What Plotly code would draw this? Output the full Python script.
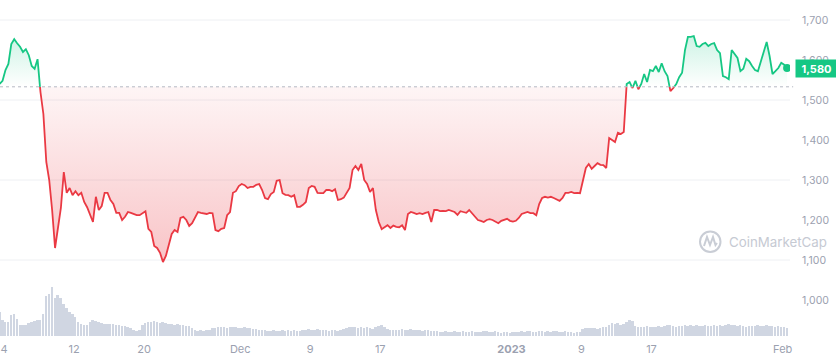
import numpy as np
import pandas as pd
import plotly.graph_objects as go

# ---------------- data ----------------
START = "2022-11-03 12:00"
STEP = "8h"

PRICE = [
    1540, 1548, 1575, 1590, 1640, 1652, 1642, 1633, 1620, 1627,
    1612, 1585, 1578, 1602, 1520, 1465, 1345, 1300, 1225, 1130,
    1178, 1230, 1320, 1268, 1280, 1262, 1272, 1262, 1268, 1245,
    1232, 1215, 1195, 1258, 1225, 1235, 1268, 1268, 1250, 1240,
    1218, 1218, 1200, 1208, 1220, 1218, 1215, 1212, 1212, 1218,
    1222, 1178, 1170, 1135, 1130, 1118, 1095, 1110, 1135, 1165,
    1175, 1170, 1205, 1208, 1200, 1185, 1192, 1205, 1220, 1218,
    1217, 1215, 1218, 1217, 1175, 1172, 1178, 1180, 1212, 1220,
    1268, 1272, 1285, 1290, 1287, 1280, 1283, 1283, 1288, 1290,
    1275, 1255, 1252, 1265, 1270, 1298, 1300, 1267, 1263, 1262,
    1258, 1262, 1233, 1233, 1238, 1245, 1280, 1285, 1283, 1268,
    1267, 1267, 1275, 1275, 1272, 1277, 1250, 1252, 1256, 1270,
    1280, 1325, 1335, 1325, 1340, 1300, 1290, 1270, 1280, 1225,
    1195, 1177, 1183, 1187, 1180, 1186, 1183, 1182, 1187, 1175,
    1215, 1220, 1218, 1215, 1217, 1215, 1218, 1220, 1195, 1225,
    1225, 1222, 1223, 1222, 1225, 1223, 1220, 1213, 1222, 1220,
    1218, 1225, 1217, 1208, 1200, 1198, 1195, 1200, 1202, 1200,
    1195, 1192, 1198, 1200, 1203, 1198, 1196, 1198, 1205, 1215,
    1218, 1220, 1217, 1217, 1212, 1240, 1255, 1258, 1256, 1258,
    1255, 1252, 1248, 1255, 1268, 1268, 1270, 1267, 1268, 1267,
    1295, 1330, 1340, 1328, 1335, 1342, 1338, 1337, 1330, 1405,
    1400, 1395, 1418, 1415, 1420, 1540, 1545, 1530, 1548, 1527,
    1540, 1565, 1545, 1575, 1572, 1585, 1570, 1592, 1572, 1560,
    1522, 1530, 1540, 1557, 1568, 1625, 1658, 1658, 1660, 1635,
    1633, 1640, 1643, 1635, 1640, 1642, 1625, 1617, 1560, 1557,
    1552, 1625, 1615, 1605, 1572, 1578, 1603, 1597, 1585, 1575,
    1572, 1595, 1617, 1645, 1610, 1565, 1572, 1580, 1593, 1588,
    1580,
]

# trading volume (units of $0.5bn)
VOLUME = [
    24, 16, 14, 14, 21, 22, 17, 11, 11, 11,
    13, 14, 15, 16, 16, 22, 40, 42, 49, 38,
    41, 38, 32, 28, 24, 22, 19, 14, 12, 11,
    11, 14, 16, 15, 14, 13, 12, 12, 12, 12,
    11, 11, 10, 10, 9, 8, 6, 5, 6, 11,
    13, 14, 14, 15, 14, 13, 14, 13, 12, 12,
    11, 12, 11, 11, 10, 10, 8, 6, 5, 6,
    5, 6, 6, 8, 8, 9, 9, 9, 8, 9,
    9, 9, 8, 8, 9, 8, 8, 7, 7, 6,
    6, 6, 5, 5, 6, 5, 5, 6, 5, 6,
    5, 6, 5, 5, 6, 6, 7, 6, 6, 7,
    6, 6, 6, 5, 6, 6, 5, 6, 7, 8,
    9, 9, 9, 8, 9, 8, 9, 8, 7, 9,
    10, 11, 9, 7, 6, 6, 6, 6, 7, 6,
    6, 7, 6, 6, 6, 5, 6, 6, 5, 5,
    5, 4, 4, 5, 4, 4, 5, 4, 4, 5,
    4, 4, 5, 4, 4, 4, 5, 5, 4, 4,
    5, 4, 3, 4, 4, 3, 4, 4, 4, 5,
    4, 5, 5, 4, 4, 5, 5, 4, 5, 4,
    5, 5, 4, 4, 5, 4, 4, 3, 4, 4,
    7, 8, 8, 8, 8, 7, 8, 9, 9, 11,
    13, 12, 13, 11, 12, 14, 16, 15, 10, 9,
    9, 9, 10, 9, 9, 9, 10, 9, 10, 11,
    11, 10, 9, 10, 10, 11, 10, 11, 10, 11,
    10, 10, 11, 10, 10, 11, 10, 11, 10, 11,
    12, 11, 11, 10, 11, 10, 9, 10, 10, 10,
    11, 10, 10, 11, 10, 10, 9, 10, 9, 9,
    8,
]

BASELINE = 1533
LAST_PRICE = 1580
Y_TICKS = [1000, 1100, 1200, 1300, 1400, 1500, 1600, 1700]
GRID_LEVELS = [1100, 1300, 1500, 1700]
X_TICKS = ["2022-11-04", "2022-11-12", "2022-11-20", "2022-12-01", "2022-12-09",
           "2022-12-17", "2023-01-01", "2023-01-09", "2023-01-17", "2023-02-01"]
X_LABELS = ["4", "12", "20", "Dec", "9", "17", "<b>2023</b>", "9", "17", "Feb"]

# ---------------- styling ----------------
GREEN = "#16c784"
RED = "#ea3943"
VOL_COLOR = "#d0d6e2"
LABEL_COLOR = "#9ba1b0"
FONT = "Inter, sans-serif"

t = pd.date_range(START, periods=len(PRICE), freq=STEP)
tms = t.values.astype("datetime64[ms]").astype(np.int64).astype(float)
p = np.array(PRICE, dtype=float)

# insert baseline crossing points so colours switch exactly at the baseline
xs, ys = [tms[0]], [p[0]]
for i in range(1, len(p)):
    a, b = p[i - 1] - BASELINE, p[i] - BASELINE
    if a * b < 0:
        f = a / (a - b)
        xs.append(tms[i - 1] + f * (tms[i] - tms[i - 1]))
        ys.append(BASELINE)
    xs.append(tms[i])
    ys.append(p[i])
xs = pd.to_datetime(np.array(xs), unit="ms")
ys = np.array(ys)

up = np.maximum(ys, BASELINE)
dn = np.minimum(ys, BASELINE)
green_line = np.where(ys >= BASELINE, ys, np.nan)
red_line = np.where(ys <= BASELINE, ys, np.nan)
base_arr = np.full(len(ys), BASELINE, dtype=float)

fig = go.Figure()

fig.add_trace(go.Bar(
    x=t, y=VOLUME, yaxis="y2", marker=dict(color=VOL_COLOR, line=dict(width=0)),
    width=8 * 3600 * 1000 * 0.68, hoverinfo="skip"))

fig.add_trace(go.Scatter(x=xs, y=base_arr, mode="lines", line=dict(width=0),
                         hoverinfo="skip"))
fig.add_trace(go.Scatter(
    x=xs, y=up, mode="lines", line=dict(width=0), fill="tonexty",
    fillgradient=dict(type="vertical", start=BASELINE, stop=1665,
                      colorscale=[[0, "rgba(22,199,132,0.0)"], [1, "rgba(22,199,132,0.22)"]]),
    hoverinfo="skip"))

fig.add_trace(go.Scatter(x=xs, y=base_arr, mode="lines", line=dict(width=0),
                         hoverinfo="skip"))
fig.add_trace(go.Scatter(
    x=xs, y=dn, mode="lines", line=dict(width=0), fill="tonexty",
    fillgradient=dict(type="vertical", start=1090, stop=BASELINE,
                      colorscale=[[0, "rgba(234,57,67,0.30)"], [1, "rgba(234,57,67,0.05)"]]),
    hoverinfo="skip"))

fig.add_trace(go.Scatter(x=xs, y=red_line, mode="lines",
                         line=dict(color=RED, width=1.8), connectgaps=False))
fig.add_trace(go.Scatter(x=xs, y=green_line, mode="lines",
                         line=dict(color=GREEN, width=1.8), connectgaps=False))
fig.add_trace(go.Scatter(x=[t[-1]], y=[PRICE[-1]], mode="markers",
                         marker=dict(color=GREEN, size=8)))

shapes = []
for g in GRID_LEVELS:
    shapes.append(dict(type="line", xref="paper", x0=0, x1=1, yref="y", y0=g, y1=g,
                       line=dict(color="#eef0f3", width=1), layer="below"))
shapes.append(dict(type="line", xref="paper", x0=0, x1=1.004, yref="y", y0=BASELINE, y1=BASELINE,
                   line=dict(color="#b5bac4", width=1, dash="dot"), layer="above"))

# watermark logo (circle + wave)
W, H = 790.0, 336.0
def px(x): return x / W
def py(y): return 1 - y / H
shapes.append(dict(type="circle", xref="paper", yref="paper",
                   x0=px(700), x1=px(720.5), y0=py(252), y1=py(231.5),
                   line=dict(color="#c9cdd5", width=2)))
shapes.append(dict(type="path", xref="paper", yref="paper",
                   path=f"M {px(704)} {py(246)} L {px(707)} {py(237)} L {px(710)} {py(245)} "
                        f"L {px(713)} {py(237)} L {px(715.5)} {py(245)} L {px(717)} {py(243)}",
                   line=dict(color="#c9cdd5", width=2)))

annotations = [
    dict(xref="paper", x=1, xanchor="left", xshift=5, yref="y", y=LAST_PRICE,
         text=f"<b>{LAST_PRICE:,}</b>", showarrow=False, bgcolor=GREEN,
         font=dict(color="white", size=11, family=FONT), width=37, height=13, borderpad=2),
    dict(xref="paper", x=px(727), xanchor="left", yref="paper", y=py(242), yanchor="middle",
         text="CoinMarketCap", showarrow=False,
         font=dict(color="#c6cad3", size=13.3, family=FONT)),
]

fig.update_layout(
    width=836, height=359, margin=dict(l=0, r=46, t=0, b=23),
    paper_bgcolor="white", plot_bgcolor="white", showlegend=False,
    shapes=shapes, annotations=annotations, bargap=0,
    xaxis=dict(type="date", range=["2022-11-03 13:00", "2023-02-01 20:00"],
               tickvals=X_TICKS, ticktext=X_LABELS, showgrid=False, zeroline=False,
               showline=False, ticks="outside", ticklen=3, tickcolor="rgba(0,0,0,0)",
               tickfont=dict(family=FONT, size=11, color=LABEL_COLOR)),
    yaxis=dict(side="right", range=[910, 1750], tickvals=Y_TICKS, tickformat=",d",
               showgrid=False, zeroline=False, showline=False, ticks="outside", ticklen=9,
               tickcolor="rgba(0,0,0,0)",
               tickfont=dict(family=FONT, size=10.5, color=LABEL_COLOR)),
    yaxis2=dict(overlaying="y", range=[0, 336], visible=False),
)

fig.write_html("out.html", config={"displayModeBar": False},
               post_script="document.body.style.margin='0';window.dispatchEvent(new Event('resize'));")
